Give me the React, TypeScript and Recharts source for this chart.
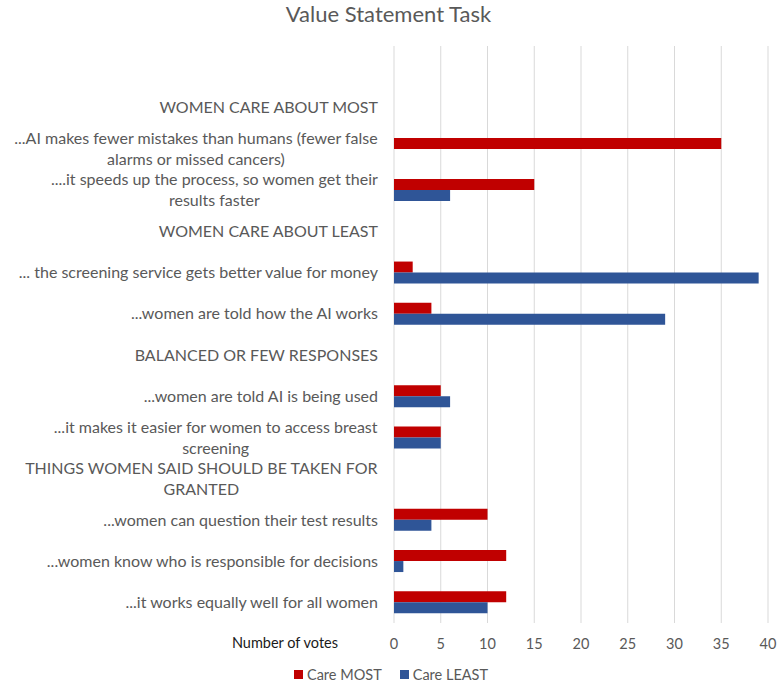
import React from 'react';
import { BarChart, Bar, XAxis, YAxis, CartesianGrid, Legend } from 'recharts';

const statements = [
    '',
    'WOMEN CARE ABOUT MOST',
    '...AI makes fewer mistakes than humans (fewer false\nalarms or missed cancers)',
    '....it speeds up the process, so women get their\nresults faster',
    'WOMEN CARE ABOUT LEAST',
    '... the screening service gets better value for money',
    '...women are told how the AI works',
    'BALANCED OR FEW RESPONSES',
    '...women are told AI is being used',
    '...it makes it easier for women to access breast\nscreening',
    'THINGS WOMEN SAID SHOULD BE TAKEN FOR\nGRANTED',
    '...women can question their test results',
    '...women know who is responsible for decisions',
    '...it works equally well for all women',
];

// null = heading row, no bars
const careMost = [null, null, 35, 15, null, 2, 4, null, 5, 5, null, 10, 12, 12];
const careLeast = [null, null, 0, 6, null, 39, 29, null, 6, 5, null, 4, 1, 10];

const xTicks = [0, 5, 10, 15, 20, 25, 30, 35, 40];

const data = statements.map((s, i) => ({
    statement: s,
    most: careMost[i],
    least: careLeast[i],
}));

const FONT = 'Lato, "Open Sans", sans-serif';
const GREY = '#595959';
const RED = '#C00000';
const BLUE = '#2F5597';
const LABEL_SIZE = 16;

let ctx: CanvasRenderingContext2D | null = null;
const measure = (t: string, size: number) => {
    if (!ctx) ctx = document.createElement('canvas').getContext('2d');
    if (!ctx) return t.length * size * 0.5;
    ctx.font = `${size}px Lato`;
    return ctx.measureText(t).width;
};

const StatementTick = (props: any) => {
    const { x, y, payload } = props;
    const lines: string[] = String(payload.value).split('\n');
    const lh = 21;
    if (lines.length === 1) {
        return (
            <text x={x} y={y} dy="0.35em" textAnchor="end" fill={GREY} fontSize={LABEL_SIZE} fontFamily={FONT}>
                {lines[0]}
            </text>
        );
    }
    const maxW = Math.max(...lines.map((l) => measure(l, LABEL_SIZE)));
    const cx = x - maxW / 2;
    const top = y - ((lines.length - 1) * lh) / 2;
    return (
        <text x={cx} y={top} textAnchor="middle" fill={GREY} fontSize={LABEL_SIZE} fontFamily={FONT}>
            {lines.map((l, i) => (
                <tspan key={i} x={cx} y={top + i * lh} dy="0.35em">
                    {l}
                </tspan>
            ))}
        </text>
    );
};

const LegendContent = () => (
    <div
        style={{
            height: 23,
            display: 'flex',
            justifyContent: 'center',
            alignItems: 'center',
            gap: 18,
            paddingLeft: 14,
            fontFamily: FONT,
            fontSize: 14.5,
            color: GREY,
        }}
    >
        {[
            { name: 'Care MOST', color: RED },
            { name: 'Care LEAST', color: BLUE },
        ].map((it) => (
            <span key={it.name} style={{ display: 'flex', alignItems: 'center', gap: 4 }}>
                <span style={{ width: 9, height: 9, background: it.color, display: 'inline-block' }} />
                {it.name}
            </span>
        ))}
    </div>
);

export default function App() {
    return (
        <div style={{ position: 'absolute', left: 0, top: 0, width: 777, height: 686, background: '#fff' }}>
            <div
                style={{
                    position: 'absolute',
                    top: 0,
                    left: 0,
                    width: 777,
                    textAlign: 'center',
                    fontFamily: FONT,
                    fontSize: 22,
                    color: GREY,
                    lineHeight: '27px',
                }}
            >
                Value Statement Task
            </div>
            <BarChart
                width={777}
                height={686}
                data={data}
                layout="vertical"
                margin={{ top: 46, right: 9, left: 0, bottom: 0 }}
                barCategoryGap="23%"
                barGap={0}
            >
                <CartesianGrid horizontal={false} stroke="#D9D9D9" strokeWidth={1} />
                <XAxis
                    type="number"
                    domain={[0, 40]}
                    ticks={xTicks}
                    axisLine={false}
                    tickLine={false}
                    tickMargin={10}
                    height={40}
                    tick={{ fill: GREY, fontSize: 14.5, fontFamily: FONT }}
                    label={{
                        value: 'Number of votes',
                        position: 'left',
                        offset: 56,
                        fill: '#1a1a1a',
                        fontSize: 14.5,
                        fontFamily: FONT,
                    }}
                />
                <YAxis
                    type="category"
                    dataKey="statement"
                    width={394}
                    axisLine={false}
                    tickLine={false}
                    tickMargin={10}
                    interval={0}
                    tick={<StatementTick />}
                />
                <Legend verticalAlign="bottom" content={<LegendContent />} />
                <Bar dataKey="most" name="Care MOST" fill={RED} isAnimationActive={false} />
                <Bar dataKey="least" name="Care LEAST" fill={BLUE} isAnimationActive={false} />
            </BarChart>
        </div>
    );
}
